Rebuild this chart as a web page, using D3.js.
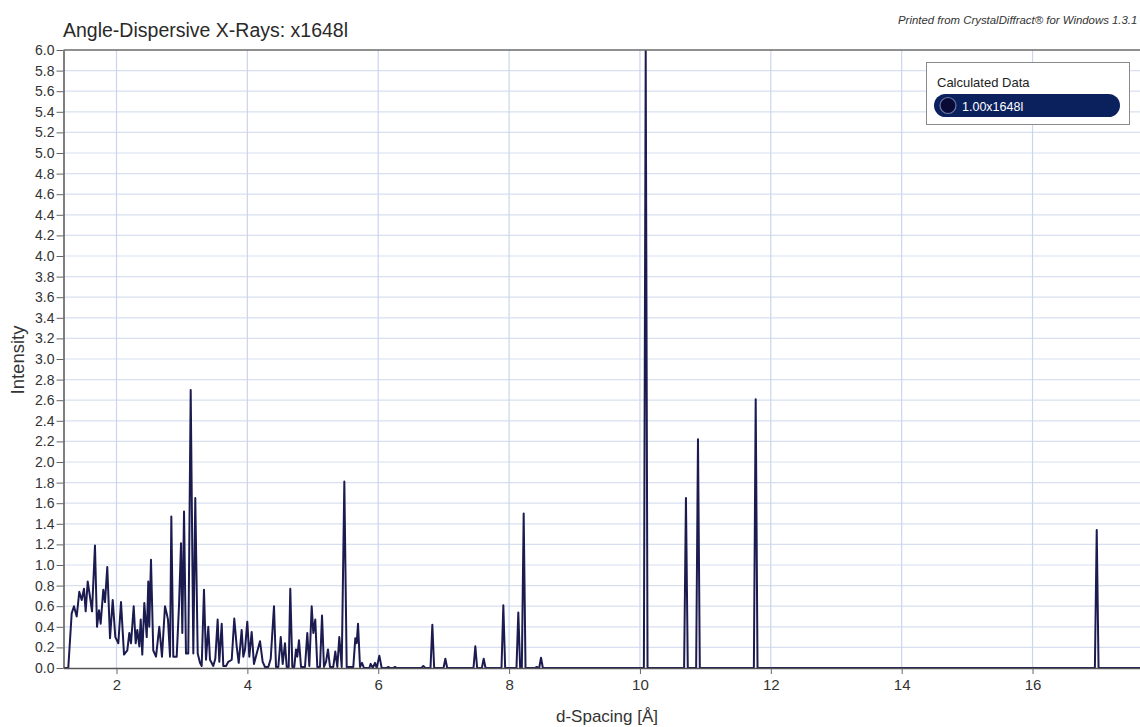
<!DOCTYPE html>
<html>
<head>
<meta charset="utf-8">
<script src="https://cdn.jsdelivr.net/npm/d3@7"></script>
<style>
  body { margin: 0; background: #fff; }
  svg { display: block; }
  text { font-family: "Liberation Sans", Arial, Helvetica, sans-serif; }
</style>
</head>
<body>
<svg id="chart" width="1140" height="727"></svg>
<script>
// Calculated powder pattern, d-spacing (Å) vs intensity.
// Dense low-d region: profile vertices.
const profileD = [
  1.190, 1.263, 1.315, 1.350, 1.392, 1.431, 1.468, 1.503, 1.529, 1.560,
  1.595, 1.626, 1.671, 1.702, 1.733, 1.758, 1.798, 1.824, 1.859, 1.901,
  1.942, 1.982, 2.028, 2.069, 2.115, 2.165, 2.196, 2.222, 2.263, 2.293,
  2.318, 2.349, 2.370, 2.394, 2.425, 2.462, 2.486, 2.501, 2.527, 2.562,
  2.604, 2.654, 2.695, 2.741, 2.767, 2.787, 2.818, 2.838, 2.868, 2.920,
  2.955, 2.986, 3.006, 3.032, 3.062, 3.097, 3.134, 3.174, 3.204, 3.241,
  3.276, 3.302, 3.337, 3.368, 3.403, 3.429, 3.479, 3.510, 3.546, 3.571,
  3.608, 3.632, 3.674, 3.709, 3.761, 3.800, 3.837, 3.868, 3.913, 3.938,
  3.964, 3.999, 4.030, 4.066, 4.101, 4.143, 4.193, 4.234, 4.270, 4.320,
  4.357, 4.407, 4.438, 4.473, 4.510, 4.540, 4.575, 4.601, 4.632, 4.656,
  4.687, 4.717, 4.743, 4.763, 4.789, 4.820, 4.881, 4.916, 4.947, 4.983,
  5.008, 5.038, 5.069, 5.110, 5.141, 5.171, 5.202, 5.232, 5.263, 5.313,
  5.344, 5.375, 5.405, 5.442, 5.482, 5.518, 5.619, 5.650, 5.671, 5.691,
  5.722, 5.752, 5.783, 5.864, 5.885, 5.916, 5.951, 5.977, 6.017, 6.053
];
const profileI = [
  0.00, 0.00, 0.53, 0.60, 0.50, 0.74, 0.66, 0.77, 0.55, 0.84,
  0.69, 0.55, 1.19, 0.40, 0.56, 0.43, 0.76, 0.64, 0.98, 0.29,
  0.66, 0.30, 0.24, 0.64, 0.13, 0.17, 0.34, 0.24, 0.60, 0.24,
  0.37, 0.21, 0.47, 0.13, 0.63, 0.30, 0.84, 0.40, 1.05, 0.17,
  0.11, 0.40, 0.11, 0.60, 0.53, 0.47, 0.11, 1.47, 0.11, 0.11,
  0.60, 1.21, 0.34, 1.52, 0.14, 0.14, 2.70, 0.14, 1.65, 0.14,
  0.05, 0.02, 0.76, 0.08, 0.40, 0.08, 0.02, 0.09, 0.47, 0.06,
  0.43, 0.02, 0.02, 0.06, 0.08, 0.48, 0.21, 0.05, 0.37, 0.11,
  0.18, 0.45, 0.11, 0.35, 0.04, 0.14, 0.26, 0.06, 0.01, 0.01,
  0.09, 0.60, 0.01, 0.01, 0.30, 0.04, 0.24, 0.01, 0.01, 0.77,
  0.01, 0.01, 0.18, 0.11, 0.27, 0.01, 0.01, 0.34, 0.02, 0.60,
  0.34, 0.47, 0.01, 0.01, 0.51, 0.01, 0.06, 0.18, 0.01, 0.01,
  0.16, 0.01, 0.30, 0.01, 1.81, 0.01, 0.01, 0.29, 0.24, 0.43,
  0.01, 0.05, 0.00, 0.00, 0.04, 0.00, 0.05, 0.00, 0.12, 0.00
];
// Isolated reflections beyond the dense region: position and peak height.
const reflectionD = [6.154, 6.256, 6.689, 6.827, 7.026, 7.484, 7.612, 7.912, 8.141, 8.223,
                     8.422, 8.488, 10.088, 10.703, 10.887, 11.769, 16.981];
const reflectionI = [0.01, 0.01, 0.02, 0.42, 0.09, 0.21, 0.09, 0.61, 0.54, 1.50,
                     0.01, 0.10, 6.00, 1.65, 2.22, 2.61, 1.34];

const xTickValues = [2, 4, 6, 8, 10, 12, 14, 16];
const yTickValues = [0.0, 0.2, 0.4, 0.6, 0.8, 1.0, 1.2, 1.4, 1.6, 1.8, 2.0, 2.2, 2.4, 2.6, 2.8,
                     3.0, 3.2, 3.4, 3.6, 3.8, 4.0, 4.2, 4.4, 4.6, 4.8, 5.0, 5.2, 5.4, 5.6, 5.8, 6.0];
const xDomain = [1.19, 17.65];
const yDomain = [0, 6];

const chartTitle = "Angle-Dispersive X-Rays: x1648l";
const footerNote = "Printed from CrystalDiffract\u00AE for Windows 1.3.1";
const xLabel = "d-Spacing [\u00C5]";
const yLabel = "Intensity";
const legendTitle = "Calculated Data";
const seriesName = "1.00x1648l";

const plot = { left: 63.5, top: 50, right: 1140.5, bottom: 668 };
const lineColor = "#1b1b50";
const peakHalfWidth = 0.028; // foot half-width of an isolated reflection, in Å

const svg = d3.select("#chart");
const x = d3.scaleLinear().domain(xDomain).range([plot.left, plot.right]);
const y = d3.scaleLinear().domain(yDomain).range([plot.bottom, plot.top]);

// Grid
const grid = svg.append("g");
grid.selectAll("line.h").data(yTickValues.filter(v => v > 0 && v < 6)).join("line")
  .attr("x1", plot.left).attr("x2", plot.right)
  .attr("y1", d => y(d)).attr("y2", d => y(d))
  .attr("stroke", "#d8dff0").attr("stroke-width", 1.2);
grid.selectAll("line.v").data(xTickValues).join("line")
  .attr("x1", d => x(d)).attr("x2", d => x(d))
  .attr("y1", plot.top).attr("y2", plot.bottom)
  .attr("stroke", "#cbd5ee").attr("stroke-width", 1.2);

// Profile: dense region followed by isolated reflections on a zero baseline
const pts = profileD.map((d, i) => [d, profileI[i]]);
reflectionD.forEach((d, i) => {
  pts.push([d - peakHalfWidth, 0], [d, reflectionI[i]], [d + peakHalfWidth, 0]);
});
pts.push([xDomain[1], 0]);

svg.append("clipPath").attr("id", "plotClip").append("rect")
  .attr("x", plot.left).attr("y", plot.top)
  .attr("width", plot.right - plot.left).attr("height", plot.bottom - plot.top);

svg.append("path")
  .datum(pts)
  .attr("clip-path", "url(#plotClip)")
  .attr("fill", "none")
  .attr("stroke", lineColor)
  .attr("stroke-width", 2)
  .attr("stroke-linejoin", "round")
  .attr("d", d3.line().x(d => x(d[0])).y(d => y(d[1])));

// Frame top
svg.append("line")
  .attr("x1", plot.left).attr("x2", plot.right)
  .attr("y1", plot.top).attr("y2", plot.top)
  .attr("stroke", "#6b6b6b").attr("stroke-width", 1.5);

// Axes
const yAxis = svg.append("g")
  .attr("transform", `translate(${plot.left},0)`)
  .call(d3.axisLeft(y).tickValues(yTickValues).tickFormat(d3.format(".1f")).tickSize(7).tickSizeOuter(0));
yAxis.select(".domain").attr("stroke", "#555").attr("stroke-width", 1.5);
yAxis.selectAll(".tick line").attr("stroke", "#666");
yAxis.selectAll(".tick text").attr("font-size", 14).attr("fill", "#333").attr("x", -9)
  .attr("font-family", "Liberation Sans, Arial, sans-serif");

const xAxis = svg.append("g")
  .attr("transform", `translate(0,${plot.bottom})`)
  .call(d3.axisBottom(x).tickValues(xTickValues).tickFormat(d3.format("d")).tickSize(6).tickSizeOuter(0));
xAxis.select(".domain").attr("stroke", "#555").attr("stroke-width", 1.5);
xAxis.selectAll(".tick line").attr("stroke", "#666");
xAxis.selectAll(".tick text").attr("font-size", 15).attr("fill", "#333").attr("y", 11)
  .attr("font-family", "Liberation Sans, Arial, sans-serif");

// Titles
svg.append("text").attr("x", 63).attr("y", 37)
  .attr("font-size", 19.5).attr("fill", "#2a2a2a").text(chartTitle);
svg.append("text").attr("x", 898).attr("y", 24)
  .attr("font-size", 11.4).attr("font-style", "italic").attr("fill", "#333").text(footerNote);
svg.append("text").attr("x", 607).attr("y", 722).attr("text-anchor", "middle")
  .attr("font-size", 17).attr("fill", "#333").text(xLabel);
svg.append("text").attr("transform", "translate(24,360) rotate(-90)").attr("text-anchor", "middle")
  .attr("font-size", 18.5).attr("fill", "#333").text(yLabel);

// Legend
const lg = svg.append("g");
lg.append("rect").attr("x", 926.5).attr("y", 62.5).attr("width", 203).attr("height", 62)
  .attr("fill", "#fff").attr("stroke", "#8a8a8a").attr("stroke-width", 1);
lg.append("text").attr("x", 937).attr("y", 87).attr("font-size", 13).attr("fill", "#222").text(legendTitle);
lg.append("rect").attr("x", 934).attr("y", 94).attr("width", 186).attr("height", 23).attr("rx", 11.5)
  .attr("fill", "#0b215e");
lg.append("circle").attr("cx", 948).attr("cy", 105.5).attr("r", 8)
  .attr("fill", "#0a0a36").attr("stroke", "#6d7aa3").attr("stroke-width", 1.2);
lg.append("text").attr("x", 962).attr("y", 110.5).attr("font-size", 12.5).attr("fill", "#fff").text(seriesName);
</script>
</body>
</html>
